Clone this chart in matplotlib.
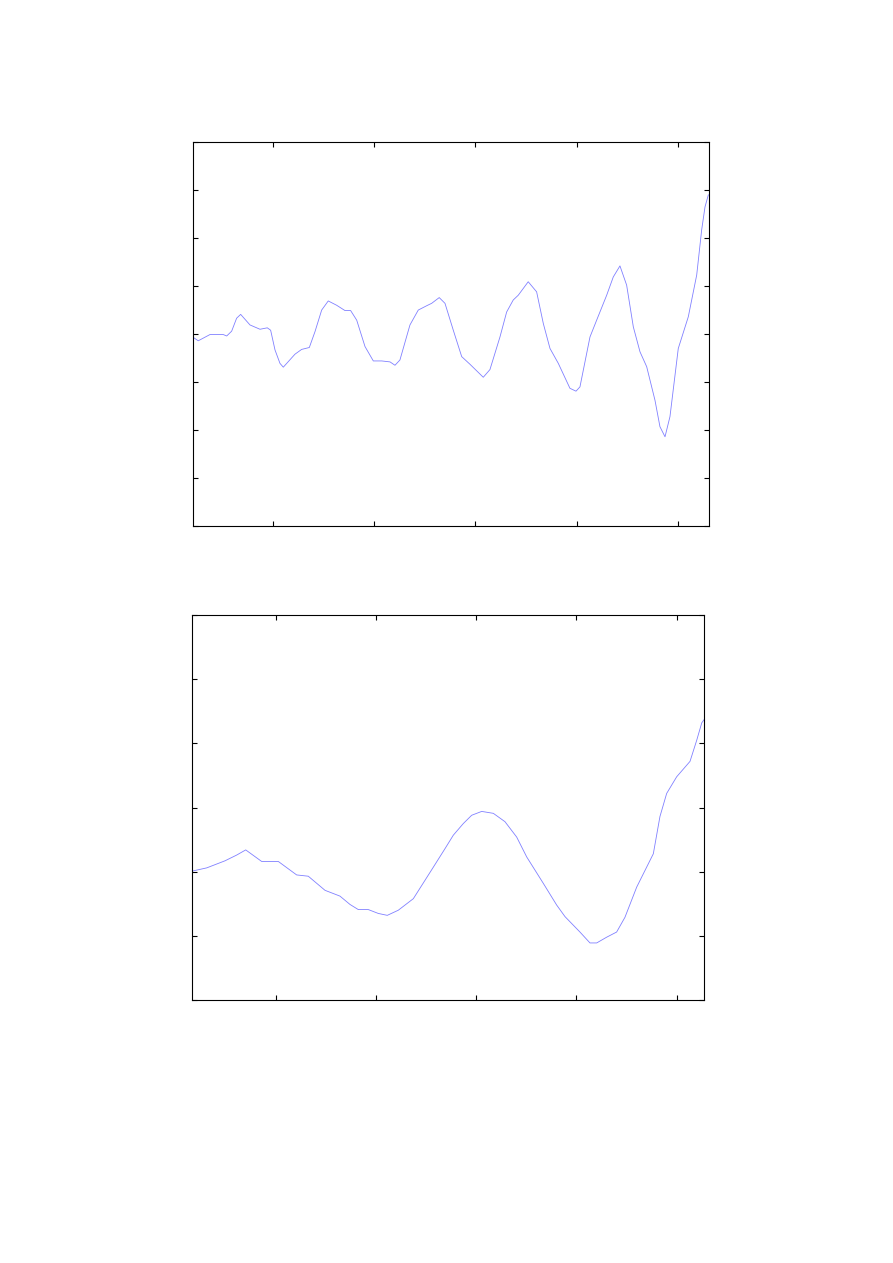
import matplotlib
matplotlib.use("Agg")
import matplotlib.pyplot as plt

# Top panel series
top_x = [21.3, 26.2, 37.8, 50.9, 54.3, 59.2, 64.1, 68.1, 77.3, 87.2, 94.4, 97.7, 102.0, 106.9, 110.2,
         121.7, 128.3, 135.9, 141.5, 148.1, 154.6, 162.9, 171.1, 176.7, 182.7, 190.9, 199.1, 207.4,
         215.6, 220.5, 225.4, 235.3, 243.5, 251.8, 256.7, 264.2, 269.9, 278.1, 286.4, 294.6, 307.7,
         314.3, 324.2, 330.8, 337.3, 342.3, 352.1, 360.4, 367.0, 373.6, 381.8, 393.3, 399.3, 403.2,
         413.1, 419.7, 429.6, 436.1, 442.7, 449.3, 455.9, 462.5, 469.1, 477.3, 482.2, 487.2, 492.1,
         500.3, 510.2, 518.5, 523.4, 526.7, 530.0]
top_y = [-0.07, -0.14, -0.01, -0.01, -0.04, 0.06, 0.33, 0.41, 0.19, 0.10, 0.13, 0.08, -0.33, -0.61, -0.69,
         -0.42, -0.32, -0.28, 0.05, 0.50, 0.69, 0.60, 0.49, 0.49, 0.29, -0.26, -0.56, -0.56,
         -0.58, -0.65, -0.54, 0.19, 0.50, 0.59, 0.64, 0.76, 0.64, 0.08, -0.47, -0.63, -0.90,
         -0.74, -0.06, 0.46, 0.71, 0.81, 1.09, 0.88, 0.22, -0.30, -0.61, -1.13, -1.19, -1.10,
         -0.06, 0.29, 0.81, 1.19, 1.42, 1.02, 0.15, -0.37, -0.68, -1.38, -1.93, -2.14, -1.72,
         -0.30, 0.36, 1.23, 2.17, 2.65, 2.90]

# Bottom panel series
bot_x = [16.8, 31.2, 49.4, 61.1, 70.1, 86.0, 102.6, 120.9, 132.5, 149.2, 164.1, 174.1, 182.4, 192.4,
         202.3, 211.3, 222.3, 237.3, 257.2, 268.9, 277.2, 287.1, 295.5, 305.5, 317.1, 328.7, 340.4,
         350.4, 366.9, 380.3, 388.6, 403.5, 413.5, 420.2, 430.2, 440.1, 448.4, 460.1, 468.4, 476.7,
         483.3, 490.0, 500.0, 513.3, 520.0, 525.0, 527.3]
bot_y = [-0.99, -0.94, -0.83, -0.74, -0.66, -0.84, -0.84, -1.05, -1.07, -1.29, -1.38, -1.51, -1.59, -1.59,
         -1.65, -1.68, -1.60, -1.42, -0.93, -0.64, -0.43, -0.25, -0.12, -0.06, -0.09, -0.22, -0.46,
         -0.77, -1.18, -1.52, -1.70, -1.94, -2.11, -2.11, -2.02, -1.94, -1.71, -1.24, -0.98, -0.72,
         -0.14, 0.22, 0.48, 0.72, 1.05, 1.32, 1.37]

x_ticks = [100, 200, 300, 400, 500]
top_yticks = [-4, -3, -2, -1, 0, 1, 2, 3, 4]
bot_yticks = [-3, -2, -1, 0, 1, 2, 3]

line_color = "#8080ff"

fig = plt.figure(figsize=(8.93, 12.63), dpi=100)

ax1 = fig.add_axes([0.2161, 0.5835, 0.5778, 0.3040])
ax1.plot(top_x, top_y, color=line_color, lw=0.6)
ax1.set_xlim(21, 530.6)
ax1.set_ylim(-4, 4)
ax1.set_xticks(x_ticks)
ax1.set_yticks(top_yticks)

ax2 = fig.add_axes([0.2150, 0.2082, 0.5733, 0.3048])
ax2.plot(bot_x, bot_y, color=line_color, lw=0.6)
ax2.set_xlim(16.5, 527.2)
ax2.set_ylim(-3, 3)
ax2.set_xticks(x_ticks)
ax2.set_yticks(bot_yticks)

for ax in (ax1, ax2):
    ax.tick_params(direction="in", top=True, right=True, length=3.6, width=0.8,
                   labelbottom=False, labelleft=False)
    for s in ax.spines.values():
        s.set_linewidth(0.8)

fig.savefig("out.png", dpi=100)
